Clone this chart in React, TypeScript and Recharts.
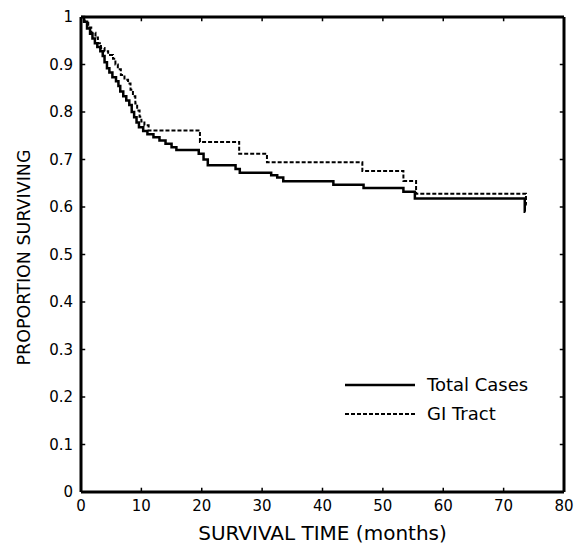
import { LineChart, Line, XAxis, YAxis, ReferenceLine, Legend } from "recharts";

// Kaplan-Meier steps (months, proportion surviving)
const totalTimes = [
  0, 0.5, 1.0, 1.5, 1.9, 2.3, 2.7, 3.2, 3.6, 3.9, 4.3, 4.7, 5.2, 5.8, 6.2, 6.5, 7.0, 7.5, 8.0, 8.4,
  8.8, 9.2, 9.6, 10.3, 11.0, 12.0, 13.0, 14.0, 15.0, 15.8, 19.5, 20.3, 21.0, 25.6, 26.3, 31.5, 32.5,
  33.5, 41.8, 46.8, 53.4, 55.3, 73.5, 73.6,
];
const totalSurv = [
  1.0, 0.99, 0.976, 0.965, 0.955, 0.945, 0.937, 0.928, 0.918, 0.905, 0.892, 0.883, 0.873, 0.865,
  0.855, 0.843, 0.833, 0.824, 0.815, 0.8, 0.789, 0.778, 0.768, 0.76, 0.753, 0.747, 0.74, 0.733,
  0.726, 0.72, 0.712, 0.7, 0.688, 0.68, 0.672, 0.667, 0.662, 0.654, 0.647, 0.64, 0.632, 0.618,
  0.59, 0.59,
];

const giTimes = [
  0, 0.6, 1.2, 1.7, 2.4, 2.8, 3.3, 3.9, 4.5, 5.3, 5.7, 6.1, 6.6, 7.2, 7.8, 8.2, 8.6, 9.0, 9.3, 9.7,
  10.0, 10.5, 11.2, 19.7, 26.2, 30.8, 46.6, 53.4, 55.5, 73.7, 73.8,
];
const giSurv = [
  1.0, 0.99, 0.978, 0.967, 0.957, 0.945, 0.935, 0.928, 0.92, 0.912, 0.9, 0.89, 0.878, 0.868, 0.86,
  0.847, 0.833, 0.818, 0.803, 0.79, 0.78, 0.772, 0.761, 0.737, 0.712, 0.694, 0.676, 0.655, 0.628,
  0.605, 0.605,
];

const seriesNames = ["Total Cases", "GI Tract"];
const xTicks = [0, 10, 20, 30, 40, 50, 60, 70, 80];
const yTicks = [0, 0.1, 0.2, 0.3, 0.4, 0.5, 0.6, 0.7, 0.8, 0.9, 1];

const totalData = totalTimes.map((t, i) => ({ t, s: totalSurv[i] }));
const giData = giTimes.map((t, i) => ({ t, s: giSurv[i] }));

const FONT = "'DejaVu Sans', sans-serif";
const INK = "#000";

const fmtY = (v: number) => (v === 0 || v === 1 ? String(v) : v.toFixed(1));

function LegendBox(props: any) {
  const items = [...(props.payload || [])].sort(
    (a: any, b: any) => seriesNames.indexOf(a.value) - seriesNames.indexOf(b.value)
  );
  return (
    <svg width={220} height={60} style={{ overflow: "visible" }}>
      {items.map((it: any, i: number) => (
        <g key={i} transform={`translate(0, ${10 + i * 29})`}>
          <line
            x1={0}
            x2={70}
            y1={0}
            y2={0}
            stroke={INK}
            strokeWidth={it.payload?.strokeWidth ?? 2}
            strokeDasharray={it.payload?.strokeDasharray}
          />
          <text x={82} y={0} dy="0.36em" fontSize={18} fontFamily={FONT} fill={INK}>
            {it.value}
          </text>
        </g>
      ))}
    </svg>
  );
}

export default function App() {
  return (
    <div style={{ position: "absolute", left: 0, top: 0, background: "#fff" }}>
      <LineChart width={579} height={546} margin={{ top: 17, right: 15, bottom: 0, left: 0 }}>
        <XAxis
          type="number"
          dataKey="t"
          domain={[0, 80]}
          ticks={xTicks}
          allowDataOverflow
          height={54}
          tickLine={false}
          tickSize={6}
          tickMargin={2}
          axisLine={{ stroke: INK, strokeWidth: 3 }}
          tick={{ fontSize: 15, fill: INK, fontFamily: FONT }}
          label={{
            value: "SURVIVAL TIME (months)",
            position: "insideBottom",
            offset: 6,
            fontSize: 20,
            fill: INK,
            fontFamily: FONT,
          }}
        />
        <YAxis
          type="number"
          domain={[0, 1]}
          ticks={yTicks}
          width={81}
          tickLine={false}
          tickSize={6}
          tickMargin={2}
          tickFormatter={fmtY}
          axisLine={{ stroke: INK, strokeWidth: 3 }}
          tick={{ fontSize: 15, fill: INK, fontFamily: FONT }}
          label={{
            content: (p: any) => {
              const vb = p.viewBox || { x: 0, y: 17, height: 475 };
              const cx = vb.x + 24;
              const cy = vb.y + vb.height / 2 + 3;
              return (
                <text
                  x={cx}
                  y={cy}
                  transform={`rotate(-90, ${cx}, ${cy})`}
                  textAnchor="middle"
                  dominantBaseline="central"
                  fontSize={17.5}
                  fontFamily={FONT}
                  fill={INK}
                >
                  PROPORTION SURVIVING
                </text>
              );
            },
          }}
        />

        {/* frame: top and right sides */}
        <ReferenceLine y={1} stroke={INK} strokeWidth={3} />
        <ReferenceLine x={80} stroke={INK} strokeWidth={3} />

        {/* inward tick marks on all four sides */}
        {xTicks.slice(1, -1).map((v) => (
          <ReferenceLine
            key={`xb${v}`}
            segment={[{ x: v, y: 0 }, { x: v, y: 0.009 }]}
            stroke={INK}
            strokeWidth={1.5}
          />
        ))}
        {xTicks.slice(1, -1).map((v) => (
          <ReferenceLine
            key={`xt${v}`}
            segment={[{ x: v, y: 1 }, { x: v, y: 0.991 }]}
            stroke={INK}
            strokeWidth={1.5}
          />
        ))}
        {yTicks.slice(1, -1).map((v) => (
          <ReferenceLine
            key={`yl${v}`}
            segment={[{ x: 0, y: v }, { x: 0.7, y: v }]}
            stroke={INK}
            strokeWidth={1.5}
          />
        ))}
        {yTicks.slice(1, -1).map((v) => (
          <ReferenceLine
            key={`yr${v}`}
            segment={[{ x: 80, y: v }, { x: 79.3, y: v }]}
            stroke={INK}
            strokeWidth={1.5}
          />
        ))}

        <Line
          data={totalData}
          dataKey="s"
          name={seriesNames[0]}
          type="stepAfter"
          stroke={INK}
          strokeWidth={2.5}
          dot={false}
          isAnimationActive={false}
        />
        <Line
          data={giData}
          dataKey="s"
          name={seriesNames[1]}
          type="stepAfter"
          stroke={INK}
          strokeWidth={2}
          strokeDasharray="4 2"
          dot={false}
          isAnimationActive={false}
        />

        <Legend
          layout="vertical"
          align="center"
          verticalAlign="middle"
          content={LegendBox}
          wrapperStyle={{ position: "absolute", left: 345, top: 375, width: 220, height: 60 }}
        />
      </LineChart>
    </div>
  );
}
